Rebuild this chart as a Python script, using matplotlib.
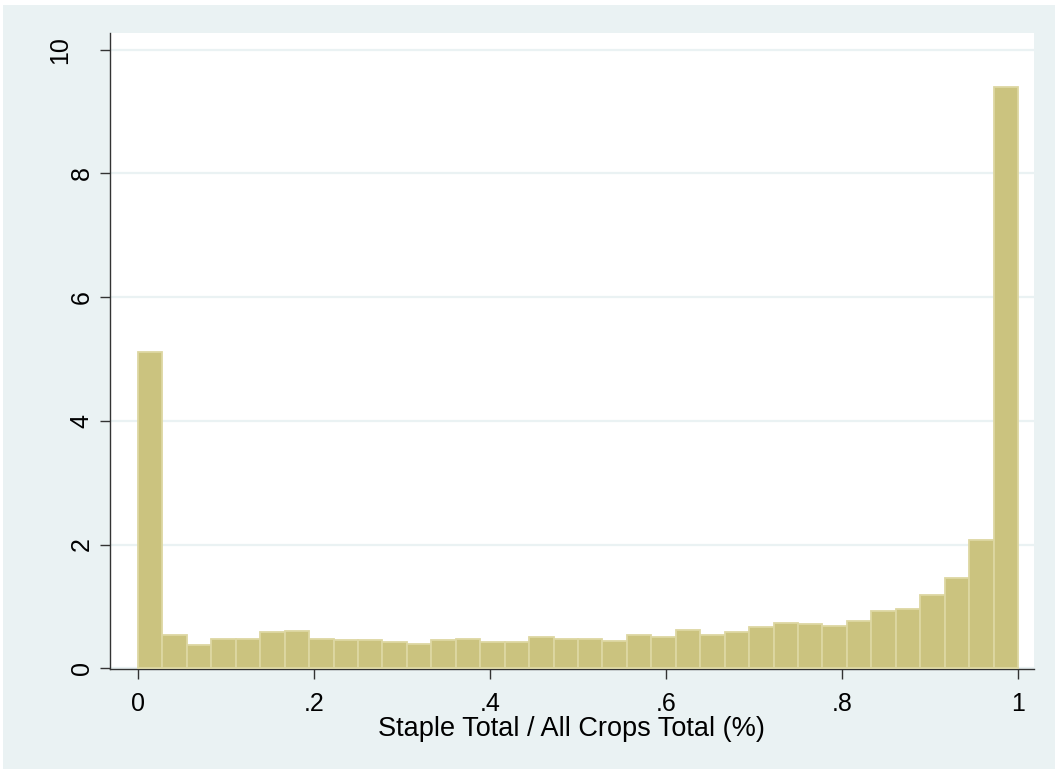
import matplotlib
matplotlib.use("Agg")
import matplotlib.pyplot as plt
import matplotlib.transforms as mtransforms
import numpy as np
from matplotlib.patches import Rectangle

# 36 bins of equal width from 0 to 1 (density)
bin_edges = np.linspace(0, 1, 37)
densities = [5.11, 0.53, 0.37, 0.48, 0.47, 0.59, 0.60, 0.47, 0.46, 0.45,
             0.43, 0.40, 0.45, 0.48, 0.42, 0.43, 0.50, 0.47, 0.47, 0.44,
             0.54, 0.51, 0.62, 0.54, 0.58, 0.66, 0.73, 0.72, 0.69, 0.77,
             0.93, 0.95, 1.18, 1.46, 2.08, 9.40]
xticks = [0, 0.2, 0.4, 0.6, 0.8, 1.0]
xtick_labels = ["0", ".2", ".4", ".6", ".8", "1"]
yticks = [0, 2, 4, 6, 8, 10]
ytick_labels = ["0", "2", "4", "6", "8", "10"]
xlabel = "Staple Total / All Crops Total (%)"

BG = "#eaf2f3"
FILL = "#cbc37f"
EDGE = "#ddd7a2"
AXC = "#333333"

plt.rcParams['font.family'] = ['Liberation Sans', 'DejaVu Sans']

fig = plt.figure(figsize=(10.55, 7.69), dpi=100)
fig.patch.set_facecolor("white")
fig.patches.append(Rectangle((3/1055, 0), 1, 1 - 5/769, transform=fig.transFigure,
                             facecolor=BG, edgecolor="none", zorder=-10))

ax = fig.add_axes([109.5/1055, 1 - 669/769, (1034-109.5)/1055, (669-33)/769])
ax.set_facecolor("white")

lefts = bin_edges[:-1]
widths = np.diff(bin_edges)
ax.bar(lefts, densities, width=widths, align="edge", color=FILL,
       edgecolor=EDGE, linewidth=1.3, zorder=3)

ax.set_xlim(-0.0324, 1.0182)
ax.set_ylim(-0.012, 10.27)

ax.set_yticks(yticks)
ax.set_yticklabels(ytick_labels, rotation=90, va="center")
ax.set_xticks(xticks)
ax.set_xticklabels(xtick_labels)

ax.yaxis.grid(True, color=BG, linewidth=1.6, zorder=0)
ax.set_axisbelow(True)

for s in ["top", "right"]:
    ax.spines[s].set_visible(False)
for s in ["left", "bottom"]:
    ax.spines[s].set_color(AXC)
    ax.spines[s].set_linewidth(1.0)

ax.tick_params(axis="both", colors=AXC, length=7.5, width=1.0, labelsize=18,
               labelcolor="black")
ax.tick_params(axis="x", pad=9)
ax.tick_params(axis="y", pad=4)

# Stata shifts the two-digit rotated label further left
for lab in ax.get_yticklabels():
    if lab.get_text() == "10":
        lab.set_transform(lab.get_transform() +
                          mtransforms.ScaledTranslation(-21/100, 0, fig.dpi_scale_trans))

ax.set_xlabel(xlabel, fontsize=19.5, labelpad=0)

fig.savefig("out.png", dpi=100, facecolor=fig.get_facecolor())
